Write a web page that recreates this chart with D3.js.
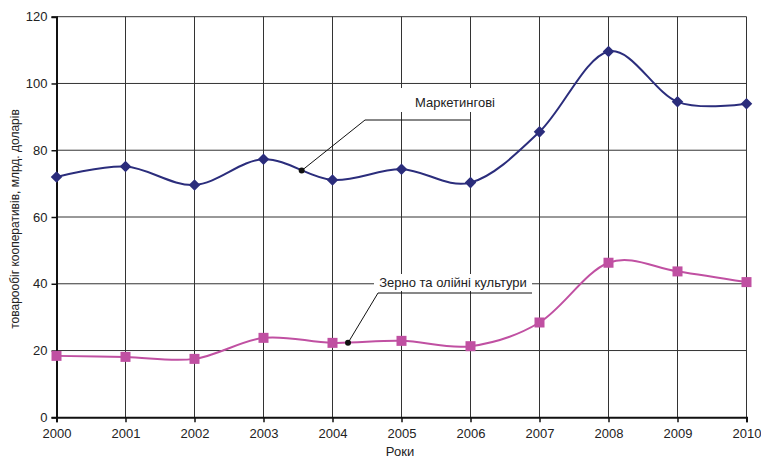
<!DOCTYPE html>
<html><head><meta charset="utf-8">
<script src="https://cdn.jsdelivr.net/npm/d3@7"></script>
<style>body{margin:0;background:#fff}svg{display:block;font-family:"Liberation Sans",Arial,sans-serif}</style>
</head><body><svg id="c" width="761" height="460"></svg>
<script>
const years = [2000,2001,2002,2003,2004,2005,2006,2007,2008,2009,2010];
const marketing = [72.0,75.1,69.6,77.3,71.1,74.3,70.3,85.5,109.6,94.5,93.9];
const grain = [18.4,18.1,17.5,23.8,22.3,22.9,21.3,28.4,46.3,43.7,40.5];
const yTicks = [0,20,40,60,80,100,120];
const labelMarketing = "Маркетингові";
const labelGrain = "Зерно та олійні культури";
const yTitle = "товарообіг кооперативів, млрд. доларів";
const xTitle = "Роки";

const svg = d3.select("#c");
const x = d3.scaleLinear().domain([2000,2010]).range([56.5,746.5]);
const y = d3.scaleLinear().domain([0,120]).range([417.3,16.7]);

const grid = svg.append("g");
grid.selectAll("line.h").data(yTicks.slice(1)).join("line")
  .attr("x1",x(2000)).attr("x2",x(2010)).attr("y1",d=>y(d)).attr("y2",d=>y(d))
  .attr("stroke","#333").attr("stroke-width",1);
grid.selectAll("line.v").data(years.slice(1)).join("line")
  .attr("x1",d=>x(d)).attr("x2",d=>x(d)).attr("y1",y(0)).attr("y2",y(120))
  .attr("stroke","#333").attr("stroke-width",1);

const yAxis = svg.append("g").attr("transform",`translate(${x(2000)},0)`)
  .call(d3.axisLeft(y).tickValues(yTicks).tickSize(5).tickPadding(4));
const xAxis = svg.append("g").attr("transform",`translate(0,${y(0)})`)
  .call(d3.axisBottom(x).tickValues(years).tickFormat(d3.format("d")).tickSize(5).tickPadding(6));
[yAxis,xAxis].forEach(a=>{
  a.select(".domain").attr("stroke","#111").attr("stroke-width",2);
  a.selectAll(".tick line").attr("stroke","#111").attr("stroke-width",1.5);
  a.selectAll("text").attr("font-size",13).attr("fill","#222").attr("font-family","Liberation Sans, Arial, sans-serif");
});

const line = d3.line().x((d,i)=>x(years[i])).y(d=>y(d)).curve(d3.curveCardinal.tension(0));
svg.append("path").datum(marketing).attr("d",line).attr("fill","none").attr("stroke","#2b2d7c").attr("stroke-width",2);
svg.append("path").datum(grain).attr("d",line).attr("fill","none").attr("stroke","#c050a2").attr("stroke-width",2);

svg.selectAll("path.dia").data(marketing).join("path")
  .attr("d",d3.symbol().type(d3.symbolDiamond2).size(85))
  .attr("transform",(d,i)=>`translate(${x(years[i])},${y(d)})`).attr("fill","#2b2d7c");
svg.selectAll("rect.sq").data(grain).join("rect")
  .attr("x",(d,i)=>x(years[i])-5).attr("y",d=>y(d)-5).attr("width",10).attr("height",10).attr("fill","#c050a2");

// annotation: Marketing
const ann = svg.append("g");
ann.append("rect").attr("x",400).attr("y",88).attr("width",108).attr("height",24).attr("fill","#fff");
ann.append("text").attr("x",455).attr("y",107).attr("text-anchor","middle").attr("font-size",13).attr("fill","#222").text(labelMarketing);
ann.append("polyline").attr("points",`${x(2003.553)},${y(73.9)} 365,120 ${x(2006)},120`).attr("fill","none").attr("stroke","#111").attr("stroke-width",1);
ann.append("circle").attr("cx",x(2003.553)).attr("cy",y(73.9)).attr("r",3).attr("fill","#111");

// annotation: Grain
ann.append("rect").attr("x",374).attr("y",274).attr("width",158).attr("height",17).attr("fill","#fff");
ann.append("text").attr("x",453).attr("y",287).attr("text-anchor","middle").attr("font-size",13).attr("fill","#222").text(labelGrain);
ann.append("polyline").attr("points",`${x(2004.225)},${y(22.3)} 378,293 532,293`).attr("fill","none").attr("stroke","#111").attr("stroke-width",1);
ann.append("circle").attr("cx",x(2004.225)).attr("cy",y(22.3)).attr("r",3).attr("fill","#111");

svg.append("text").attr("transform","translate(19,219) rotate(-90)").attr("text-anchor","middle")
  .attr("font-size",12).attr("fill","#222").text(yTitle);
svg.append("text").attr("x",400).attr("y",456).attr("text-anchor","middle").attr("font-size",13).attr("fill","#222").text(xTitle);
</script></body></html>
